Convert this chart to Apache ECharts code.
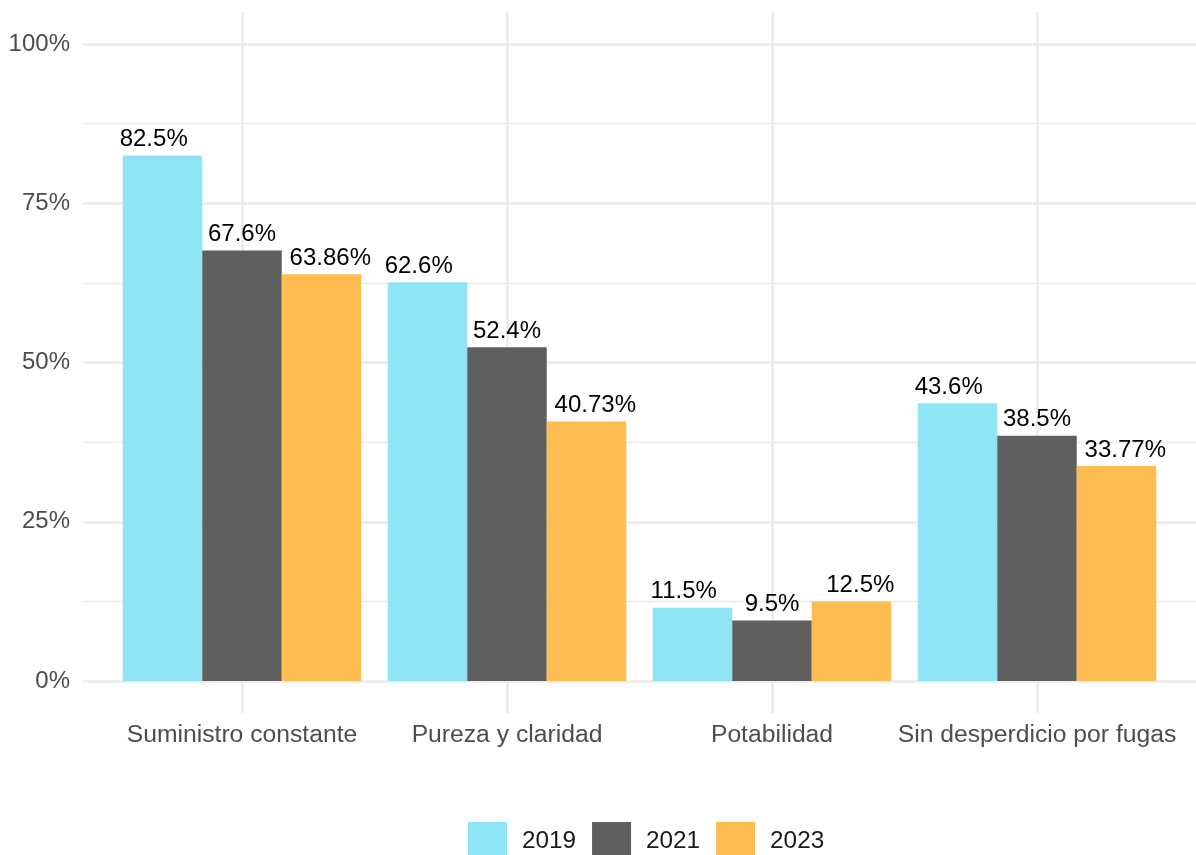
<!DOCTYPE html>
<html>
<head>
<meta charset="utf-8">
<script src="https://cdn.jsdelivr.net/npm/echarts@6/dist/echarts.min.js"></script>
<style>
  html, body { margin: 0; padding: 0; background: #ffffff; }
  #chart { width: 1196px; height: 855px; }
</style>
</head>
<body>
<div id="chart"></div>
<script>
// Survey categories and the share (%) reported for each year
const categories = ['Suministro constante', 'Pureza y claridad', 'Potabilidad', 'Sin desperdicio por fugas'];
const years = ['2019', '2021', '2023'];
const values2019 = [82.5, 62.6, 11.5, 43.6];
const values2021 = [67.6, 52.4, 9.5, 38.5];
const values2023 = [63.86, 40.73, 12.5, 33.77];
const yTicks = [0, 25, 50, 75, 100];

const colors = ['#8EE5F5', '#5F5F5F', '#FEBC51'];
const gridColor = '#EBEBEB';
const font = 'Liberation Sans, Arial, Helvetica, sans-serif';

const seriesValues = [values2019, values2021, values2023];
const labelShift = [-8.8, 0, 8.8];

const chart = echarts.init(document.getElementById('chart'), null, { renderer: 'canvas' });

const option = {
  backgroundColor: '#ffffff',
  animation: false,
  textStyle: { fontFamily: font },
  grid: [
    // horizontal gridlines + percentage labels across the full panel width
    { left: 83, right: 0, top: 44, height: 637, outerBoundsMode: 'none' },
    // vertical gridlines + category labels, spanning the expanded panel height
    { left: 242, width: 795, top: 12, height: 701, outerBoundsMode: 'none' },
    // the bars themselves
    { left: 109.5, width: 1060, top: 44, height: 637, outerBoundsMode: 'none' }
  ],
  xAxis: [
    { gridIndex: 0, type: 'value', min: 0, max: 1, show: false },
    {
      gridIndex: 1, type: 'category', data: categories, boundaryGap: false,
      axisLine: { show: false }, axisTick: { show: false },
      axisLabel: { color: '#4D4D4D', fontSize: 24.7, margin: 10, fontFamily: font, interval: 0 },
      splitLine: { show: true, lineStyle: { color: gridColor, width: 2.5 } }
    },
    { gridIndex: 2, type: 'category', data: categories, show: false }
  ],
  yAxis: [
    {
      gridIndex: 0, type: 'value', min: yTicks[0], max: yTicks[yTicks.length - 1], interval: 25,
      axisLine: { show: false }, axisTick: { show: false },
      axisLabel: { color: '#4D4D4D', fontSize: 24, margin: 13, fontFamily: font, formatter: '{value}%' },
      splitLine: { show: true, lineStyle: { color: gridColor, width: 2.5 } },
      minorTick: { show: false, splitNumber: 2 },
      minorSplitLine: { show: true, lineStyle: { color: gridColor, width: 1.3 } }
    },
    { gridIndex: 1, type: 'value', min: 0, max: 1, show: false },
    { gridIndex: 2, type: 'value', min: 0, max: 100, show: false }
  ],
  legend: {
    data: years,
    left: 463,
    top: 817,
    icon: 'rect',
    itemWidth: 39,
    itemHeight: 39,
    itemGap: 16,
    textStyle: { fontSize: 24.3, color: '#1A1A1A', fontFamily: font, padding: [0, 0, 0, 10] }
  },
  series: years.map((y, i) => ({
    name: y,
    type: 'bar',
    xAxisIndex: 2,
    yAxisIndex: 2,
    data: seriesValues[i],
    barGap: '0%',
    barCategoryGap: '10%',
    itemStyle: { color: colors[i] },
    label: {
      show: true,
      position: 'top',
      distance: 4,
      offset: [labelShift[i], 0],
      color: '#000000',
      fontSize: 24,
      fontFamily: font,
      formatter: p => p.value + '%'
    }
  }))
};

chart.setOption(option);
</script>
</body>
</html>
